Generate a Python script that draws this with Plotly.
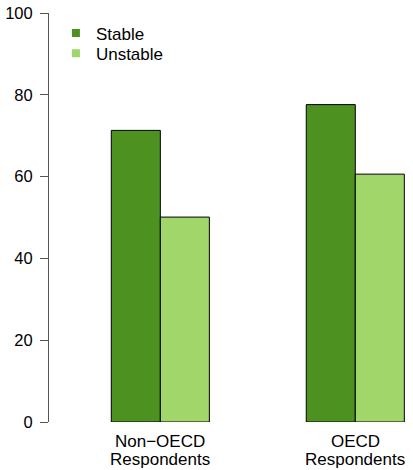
import plotly.graph_objects as go

# Share of respondents (%) by group and stability
groups = ["Non\u2212OECD Respondents", "OECD Respondents"]
group_line1 = ["Non\u2212OECD", "OECD"]
group_line2 = ["Respondents", "Respondents"]
stable = [71.3, 77.6]
unstable = [50.1, 60.6]
y_ticks = [0, 20, 40, 60, 80, 100]

dark_green = "#4d9221"
light_green = "#a1d76a"
font_family = "Liberation Sans, Arial, sans-serif"

fig = go.Figure()
fig.add_trace(go.Bar(x=groups, y=stable, name="Stable", marker_color=dark_green,
                     marker_line=dict(color="black", width=1), showlegend=False))
fig.add_trace(go.Bar(x=groups, y=unstable, name="Unstable", marker_color=light_green,
                     marker_line=dict(color="black", width=1), showlegend=False))

# Small square legend keys, one legend box per entry for tight spacing
for name, col, leg in [("Stable", dark_green, "legend"), ("Unstable", light_green, "legend2")]:
    fig.add_trace(go.Scatter(x=[None], y=[None], mode="markers", name=name, legend=leg,
                             marker=dict(symbol="square", size=8, color=col)))

legend_common = dict(xanchor="left", yanchor="top", bgcolor="rgba(0,0,0,0)",
                     font=dict(size=17), itemwidth=30)

# Two-line category labels under each group
annotations = []
for g, l1, l2 in zip(groups, group_line1, group_line2):
    annotations.append(dict(x=g, xref="x", y=-0.0465, yref="paper", text=l1,
                            showarrow=False, yanchor="middle", font=dict(size=17)))
    annotations.append(dict(x=g, xref="x", y=-0.0925, yref="paper", text=l2,
                            showarrow=False, yanchor="middle", font=dict(size=17)))

fig.update_layout(
    width=413, height=470,
    margin=dict(l=49, r=0, t=13, b=48),
    paper_bgcolor="white", plot_bgcolor="white",
    barmode="group", bargap=0.497, bargroupgap=0,
    font=dict(family=font_family, size=16.5, color="black"),
    showlegend=True,
    legend=dict(x=0.019, y=0.994, **legend_common),
    legend2=dict(x=0.019, y=0.9445, **legend_common),
    annotations=annotations,
    xaxis=dict(range=[-0.571, 1.296], showline=False, ticks="",
               showgrid=False, zeroline=False, showticklabels=False),
    yaxis=dict(range=[0, 100], tickvals=y_ticks, ticks="outside", ticklen=8,
               tickcolor="#555555", showline=True, linecolor="#555555", linewidth=1,
               showgrid=False, zeroline=False, ticklabelstandoff=4,
               tickfont=dict(size=16.5)),
)

fig.write_html("out.html")
